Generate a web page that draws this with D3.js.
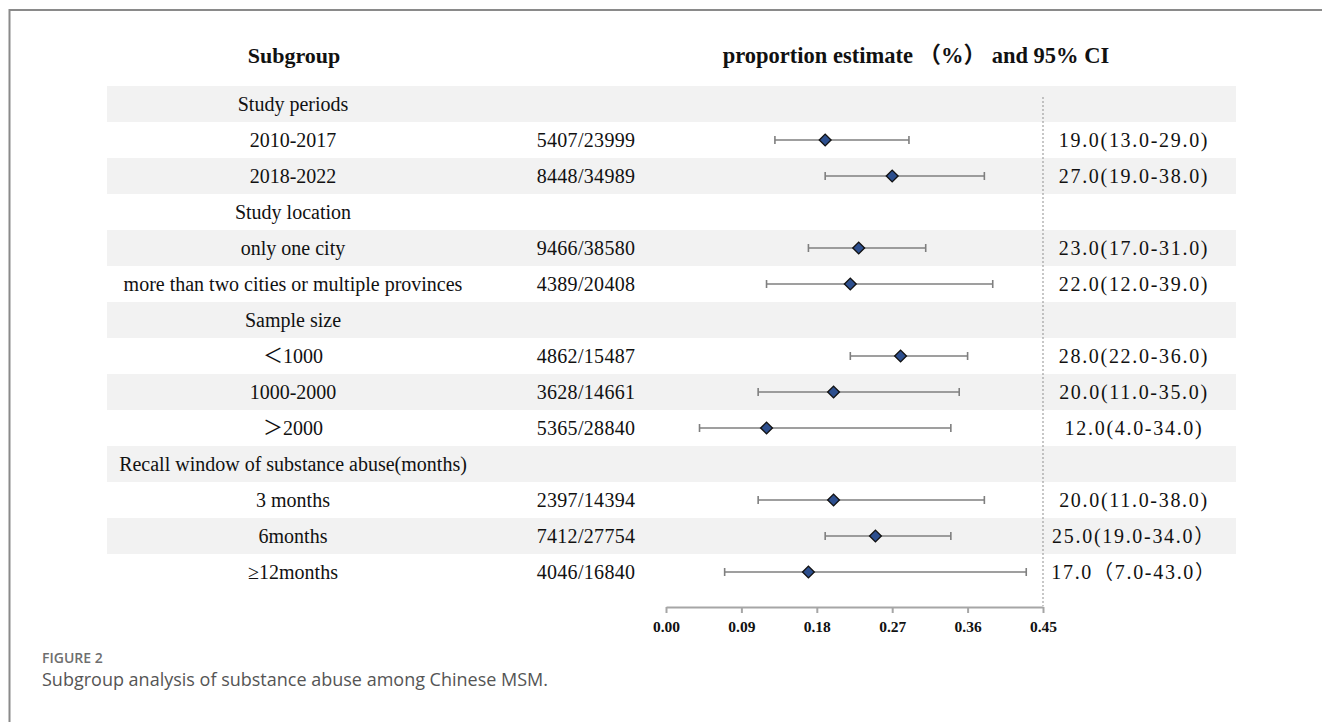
<!DOCTYPE html>
<html>
<head>
<meta charset="utf-8">
<script src="https://cdn.jsdelivr.net/npm/d3@7/dist/d3.min.js"></script>
<style>
  html, body { margin: 0; padding: 0; background: #fff; }
  svg { display: block; }
</style>
</head>
<body>
<svg id="chart" width="1322" height="722"></svg>
<script>
// Subgroup rows, top to bottom (group headings have no estimate)
const rowLabels = [
  "Study periods", "2010-2017", "2018-2022",
  "Study location", "only one city", "more than two cities or multiple provinces",
  "Sample size", "＜1000", "1000-2000", "＞2000",
  "Recall window of substance abuse(months)", "3 months", "6months", "≥12months"
];
const counts = [
  "", "5407/23999", "8448/34989",
  "", "9466/38580", "4389/20408",
  "", "4862/15487", "3628/14661", "5365/28840",
  "", "2397/14394", "7412/27754", "4046/16840"
];
// Pooled proportion and 95% CI (proportions)
const estimates = [null, 0.19, 0.27, null, 0.23, 0.22, null, 0.28, 0.20, 0.12, null, 0.20, 0.25, 0.17];
const lowerCI   = [null, 0.13, 0.19, null, 0.17, 0.12, null, 0.22, 0.11, 0.04, null, 0.11, 0.19, 0.07];
const upperCI   = [null, 0.29, 0.38, null, 0.31, 0.39, null, 0.36, 0.35, 0.34, null, 0.38, 0.34, 0.43];
const ciLabels = [
  "", "19.0(13.0-29.0)", "27.0(19.0-38.0)",
  "", "23.0(17.0-31.0)", "22.0(12.0-39.0)",
  "", "28.0(22.0-36.0)", "20.0(11.0-35.0)", "12.0(4.0-34.0)",
  "", "20.0(11.0-38.0)", "25.0(19.0-34.0）", "17.0（7.0-43.0）"
];
const axisTicks = [0.00, 0.09, 0.18, 0.27, 0.36, 0.45];

const svg = d3.select("#chart");
const serif = "'Liberation Serif', 'Times New Roman', 'Noto Sans CJK SC', serif";
const sans = "'Open Sans', 'Noto Sans', sans-serif";

// Figure frame (top and left rules)
svg.append("line").attr("x1", 9).attr("x2", 1322).attr("y1", 10).attr("y2", 10)
  .attr("stroke", "#8a8a8a").attr("stroke-width", 2);
svg.append("line").attr("x1", 9.5).attr("x2", 9.5).attr("y1", 9).attr("y2", 722)
  .attr("stroke", "#8a8a8a").attr("stroke-width", 2);

const rows = d3.range(rowLabels.length);
const y = d3.scaleBand().domain(rows).range([86, 86 + 36 * rows.length]).padding(0);
const x = d3.scaleLinear().domain([0, 0.45]).range([666, 1043]);
const cy = i => y(i) + y.bandwidth() / 2;

// Alternating row shading
svg.append("g").selectAll("rect")
  .data(rows.filter(i => i % 2 === 0))
  .join("rect")
  .attr("x", 107).attr("width", 1236 - 107)
  .attr("y", i => y(i)).attr("height", y.bandwidth())
  .attr("fill", "#f2f2f2");

// Column headings
svg.append("text").attr("x", 294).attr("y", 63).attr("text-anchor", "middle")
  .attr("font-family", serif).attr("font-weight", "bold").attr("font-size", 22)
  .attr("fill", "#111").text("Subgroup");
svg.append("text").attr("x", 916).attr("y", 63).attr("text-anchor", "middle")
  .attr("font-family", serif).attr("font-weight", "bold").attr("font-size", 22.5)
  .attr("fill", "#111").text("proportion estimate （%） and 95% CI");

// Text columns
const txt = svg.append("g").attr("font-family", serif).attr("font-size", 20).attr("fill", "#111");
txt.selectAll("text.lab").data(rows).join("text").attr("class", "lab")
  .attr("x", 293).attr("y", i => cy(i)).attr("dy", "0.35em")
  .attr("text-anchor", "middle").text(i => rowLabels[i]);
txt.selectAll("text.cnt").data(rows.filter(i => counts[i])).join("text").attr("class", "cnt")
  .attr("x", 586).attr("y", i => cy(i)).attr("dy", "0.35em")
  .attr("letter-spacing", 0.3)
  .attr("text-anchor", "middle").text(i => counts[i]);
txt.selectAll("text.ci").data(rows.filter(i => ciLabels[i])).join("text").attr("class", "ci")
  .attr("x", 1134).attr("y", i => cy(i)).attr("dy", "0.35em")
  .attr("letter-spacing", 1.7)
  .attr("text-anchor", "middle").text(i => ciLabels[i]);

// Reference line at the upper end of the scale
svg.append("line").attr("x1", x(0.45)).attr("x2", x(0.45)).attr("y1", 97).attr("y2", 606)
  .attr("stroke", "#8f8f8f").attr("stroke-width", 1).attr("stroke-dasharray", "2,2");

// Confidence intervals with end caps
const pts = rows.filter(i => estimates[i] !== null);
const ci = svg.append("g").attr("stroke", "#7f7f7f").attr("stroke-width", 1.6);
ci.selectAll("line.w").data(pts).join("line").attr("class", "w")
  .attr("x1", i => x(lowerCI[i])).attr("x2", i => x(upperCI[i]))
  .attr("y1", i => cy(i)).attr("y2", i => cy(i));
ci.selectAll("line.l").data(pts).join("line").attr("class", "l")
  .attr("x1", i => x(lowerCI[i])).attr("x2", i => x(lowerCI[i]))
  .attr("y1", i => cy(i) - 4).attr("y2", i => cy(i) + 4);
ci.selectAll("line.u").data(pts).join("line").attr("class", "u")
  .attr("x1", i => x(upperCI[i])).attr("x2", i => x(upperCI[i]))
  .attr("y1", i => cy(i) - 4).attr("y2", i => cy(i) + 4);

// Point estimates as diamonds
svg.append("g").selectAll("path").data(pts).join("path")
  .attr("d", d3.symbol(d3.symbolDiamond2, 88))
  .attr("transform", i => `translate(${x(estimates[i])},${cy(i)})`)
  .attr("fill", "#2d4f8e").attr("stroke", "#111").attr("stroke-width", 1.4);

// Bottom axis
const axis = d3.axisBottom(x).tickValues(axisTicks).tickFormat(d3.format(".2f"))
  .tickSize(6).tickSizeOuter(0).tickPadding(8);
const ax = svg.append("g").attr("transform", "translate(0,607)").call(axis);
ax.select(".domain").attr("stroke", "#a6a6a6").attr("stroke-width", 2);
ax.selectAll(".tick line").attr("stroke", "#a6a6a6").attr("stroke-width", 2);
ax.selectAll(".tick text").attr("font-family", serif).attr("font-weight", "bold")
  .attr("font-size", 15.5).attr("fill", "#111");

// Caption
svg.append("text").attr("x", 42).attr("y", 663)
  .attr("font-family", sans).attr("font-weight", 600)
  .attr("font-size", 14).attr("fill", "#6e6e6e").text("FIGURE 2");
svg.append("text").attr("x", 42).attr("y", 686)
  .attr("font-family", sans)
  .attr("font-size", 18).attr("fill", "#555").text("Subgroup analysis of substance abuse among Chinese MSM.");
</script>
</body>
</html>
